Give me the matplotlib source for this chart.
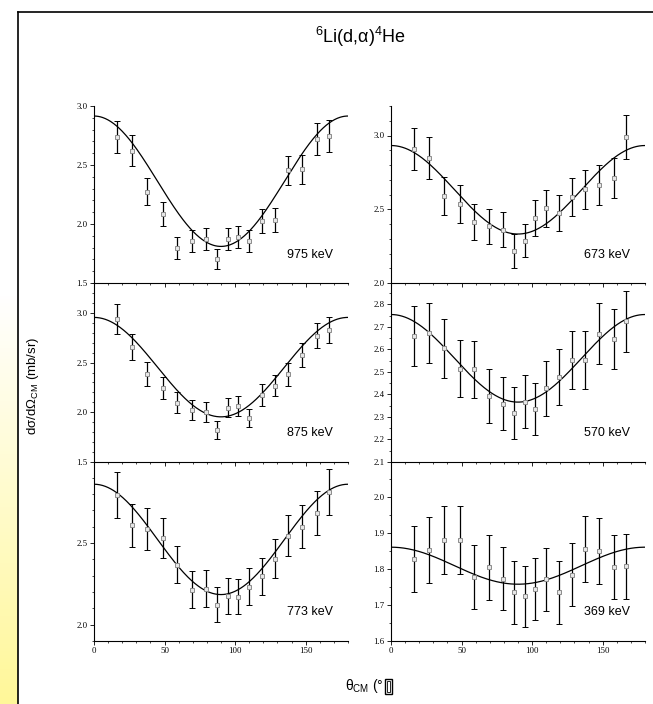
import numpy as np
import matplotlib
matplotlib.use('Agg')
import matplotlib.pyplot as plt
from matplotlib.ticker import MultipleLocator, FormatStrFormatter
from matplotlib.patches import Rectangle

plt.rcParams['mathtext.fontset'] = 'custom'
plt.rcParams['mathtext.rm'] = 'Liberation Sans'
plt.rcParams['mathtext.it'] = 'Liberation Sans'

# CM angles (deg), shared by all panels
theta = [16.5, 27.0, 37.8, 48.6, 59.0, 69.4, 79.6, 87.3, 94.9, 102.2, 109.5,
         119.0, 128.6, 137.8, 147.6, 158.0, 166.2]

# cross sections (mb/sr) and errors, per beam energy
sig_975 = [2.737, 2.621, 2.274, 2.082, 1.797, 1.853, 1.870, 1.701, 1.870, 1.890,
           1.853, 2.023, 2.037, 2.455, 2.464, 2.718, 2.746]
err_975 = [0.136, 0.133, 0.115, 0.102, 0.092, 0.092, 0.094, 0.085, 0.094, 0.095,
           0.094, 0.102, 0.102, 0.122, 0.124, 0.137, 0.138]

sig_673 = [2.910, 2.849, 2.589, 2.537, 2.415, 2.384, 2.361, 2.217, 2.287, 2.442,
           2.508, 2.474, 2.582, 2.634, 2.664, 2.711, 2.991]
err_673 = [0.144, 0.142, 0.130, 0.128, 0.121, 0.120, 0.120, 0.113, 0.114, 0.123,
           0.125, 0.123, 0.129, 0.132, 0.135, 0.136, 0.150]

sig_875 = [2.939, 2.657, 2.384, 2.243, 2.095, 2.025, 2.004, 1.826, 2.045, 2.062,
           1.940, 2.176, 2.267, 2.381, 2.575, 2.770, 2.825]
err_875 = [0.150, 0.133, 0.120, 0.111, 0.104, 0.101, 0.099, 0.091, 0.096, 0.099,
           0.091, 0.110, 0.108, 0.116, 0.120, 0.128, 0.132]

sig_570 = [2.659, 2.673, 2.605, 2.515, 2.511, 2.394, 2.358, 2.317, 2.367, 2.335,
           2.427, 2.478, 2.552, 2.552, 2.670, 2.647, 2.725]
err_570 = [0.134, 0.133, 0.131, 0.126, 0.126, 0.120, 0.118, 0.117, 0.118, 0.117,
           0.122, 0.124, 0.128, 0.128, 0.134, 0.132, 0.136]

sig_773 = [2.793, 2.607, 2.584, 2.529, 2.367, 2.215, 2.221, 2.121, 2.174, 2.172,
           2.232, 2.295, 2.404, 2.545, 2.600, 2.685, 2.810]
err_773 = [0.138, 0.129, 0.129, 0.122, 0.115, 0.111, 0.112, 0.107, 0.109, 0.109,
           0.113, 0.115, 0.120, 0.126, 0.130, 0.134, 0.140]

sig_369 = [1.828, 1.852, 1.881, 1.881, 1.779, 1.805, 1.773, 1.735, 1.724, 1.744,
           1.772, 1.735, 1.784, 1.855, 1.851, 1.805, 1.808]
err_369 = [0.091, 0.092, 0.094, 0.094, 0.089, 0.090, 0.088, 0.087, 0.086, 0.086,
           0.088, 0.087, 0.088, 0.092, 0.092, 0.089, 0.090]

# fitted a + b*cos^2(theta) coefficients
fit_975 = [1.810, 1.105]
fit_673 = [2.332, 0.600]
fit_875 = [1.954, 1.000]
fit_570 = [2.366, 0.389]
fit_773 = [2.184, 0.675]
fit_369 = [1.758, 0.103]

energies = ['975 keV', '673 keV', '875 keV', '570 keV', '773 keV', '369 keV']

fig = plt.figure(figsize=(6.53, 7.04), dpi=100)
W, H = 653.0, 704.0

# slide frame and yellow strip
bg = fig.add_axes([0, 0, 1, 1], zorder=-5)
bg.set_xlim(0, W)
bg.set_ylim(H, 0)
bg.axis('off')
grad = np.linspace(0, 1, 200)[:, None]
grad = np.clip((grad - 0.42) / 0.58, 0, 1)
yel = np.ones((200, 1, 3))
yel[:, :, 2] = 1 - 0.40 * grad
yel[:, :, 1] = 1 - 0.03 * grad
bg.imshow(yel, extent=[0, 18, H, 0], aspect='auto')
bg.plot([18, 18], [12, H], color='black', lw=1.2)
bg.plot([18, W], [12, 12], color='black', lw=1.2)

panels = [
    (sig_975, err_975, fit_975, (1.5, 3.0), 0.5, 0.1, 0, 0),
    (sig_673, err_673, fit_673, (2.0, 3.2), 0.5, 0.1, 0, 1),
    (sig_875, err_875, fit_875, (1.5, 3.3), 0.5, 0.1, 1, 0),
    (sig_570, err_570, fit_570, (2.1, 2.895), 0.1, 0.05, 1, 1),
    (sig_773, err_773, fit_773, (1.9, 2.995), 0.5, 0.1, 2, 0),
    (sig_369, err_369, fit_369, (1.6, 2.098), 0.1, 0.05, 2, 1),
]

col_x = [94 / W, 391 / W]
ax_w = 254 / W
row_top = [106, 283, 462]
row_bot = [283, 462, 641]

th_fit = np.linspace(0, 180, 361)
serif = 'Liberation Serif'

for i, (sig, err, fit, ylim, maj, mnr, r, c) in enumerate(panels):
    ax = fig.add_axes([col_x[c], 1 - row_bot[r] / H, ax_w,
                       (row_bot[r] - row_top[r]) / H])
    ax.patch.set_alpha(0)
    model = fit[0] + fit[1] * np.cos(np.radians(th_fit)) ** 2
    ax.plot(th_fit, model, color='black', lw=0.9, zorder=2)
    ax.errorbar(theta, sig, yerr=err, fmt='s', ms=3.2, mfc='#e6e6e6',
                mec='#8c8c8c', mew=0.7, ecolor='black', elinewidth=0.9,
                capsize=2.0, capthick=0.9, zorder=3)
    ax.set_xlim(0, 180)
    ax.set_ylim(*ylim)
    ax.xaxis.set_major_locator(MultipleLocator(50))
    ax.xaxis.set_minor_locator(MultipleLocator(10))
    ax.yaxis.set_major_locator(MultipleLocator(maj))
    ax.yaxis.set_minor_locator(MultipleLocator(mnr))
    ax.spines['top'].set_visible(False)
    ax.spines['right'].set_visible(False)
    for s in ('left', 'bottom'):
        ax.spines[s].set_linewidth(0.8)
    ax.tick_params(which='major', direction='out', length=2.6, width=0.6,
                   labelsize=6.3, pad=2)
    ax.tick_params(which='minor', direction='out', length=1.3, width=0.5)
    ax.yaxis.set_major_formatter(FormatStrFormatter('%.1f'))
    if r < 2:
        ax.tick_params(axis='x', labelbottom=False)
    for lab in ax.get_xticklabels() + ax.get_yticklabels():
        lab.set_fontfamily(serif)
    ax.text(0.94, 0.16, energies[i], transform=ax.transAxes, ha='right',
            va='center', fontsize=9, family='Liberation Sans')

fig.text(360 / W, 1 - 37 / H, '$^{6}$Li(d,\u03b1)$^{4}$He', ha='center',
         va='center', fontsize=13, family='Liberation Sans')
fig.text(33 / W, 1 - 386 / H, 'd\u03c3/d\u03a9$_{\\mathrm{CM}}$ (mb/sr)',
         rotation=90, ha='center', va='center', fontsize=9.5,
         family='Liberation Sans')
xl = fig.text(345 / W, 1 - 686 / H, '\u03b8$_{\\mathrm{CM}}$ (\u00b0',
              ha='left', va='center', fontsize=10, family='Liberation Sans')

# missing-glyph box that follows the x label in the original
fig.canvas.draw()
bb = xl.get_window_extent()
x0 = bb.x1 + 1
bg.add_patch(Rectangle((x0, H - bb.y1 + 2), 7, bb.height - 3,
                       fill=False, edgecolor='black', lw=1.0))
bg.add_patch(Rectangle((x0 + 2, H - bb.y1 + 4), 3, bb.height - 7,
                       fill=False, edgecolor='black', lw=0.6))

fig.savefig('out.png', dpi=100)
